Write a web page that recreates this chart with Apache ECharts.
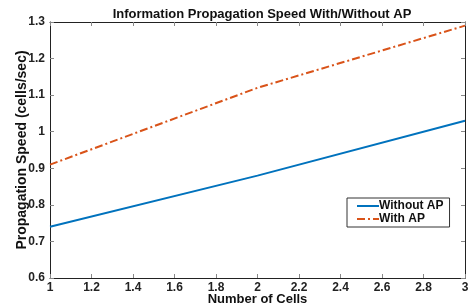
<!DOCTYPE html>
<html><head><meta charset="utf-8">
<script src="https://cdn.jsdelivr.net/npm/echarts@6/dist/echarts.min.js"></script>
<style>html,body{margin:0;padding:0;background:#fff}#c{width:472px;height:308px}</style>
</head><body><div id="c"></div>
<script>
const cells = [1, 2, 3];
const withoutAP = [0.74, 0.88, 1.03];
const withAP = [0.91, 1.12, 1.29];
const FONT = '"Liberation Sans", Arial, sans-serif';
const chart = echarts.init(document.getElementById('c'), null, {renderer: 'canvas'});
const axisLine = {show: true, lineStyle: {color: '#222', width: 1}};
const tick = {show: true, inside: true, length: 4, lineStyle: {color: '#888', width: 1}};
const lbl = {color: '#222', fontFamily: FONT, fontWeight: 'bold', fontSize: 12};
chart.setOption({
  animation: false,
  title: {text: 'Information Propagation Speed With/Without AP', left: 257, textAlign: 'center', top: 3,
    textStyle: {fontFamily: FONT, fontWeight: 'bold', fontSize: 13, color: '#111'}},
  grid: {left: 50, right: 7, top: 22, bottom: 30, outerBoundsMode: 'none', containLabel: false},
  legend: {left: 347, top: 198, orient: 'vertical', itemWidth: 22, itemHeight: 10, itemGap: 1,
    padding: [2, 6, 2, 9], borderColor: '#333', borderWidth: 1, backgroundColor: '#fff',
    itemStyle: {opacity: 0},
    textStyle: {fontFamily: FONT, fontWeight: 'bold', fontSize: 12, color: '#111', padding: [0, 0, 0, -5]},
    data: ['Without AP', 'With AP']},
  xAxis: [
    {type: 'value', min: 1, max: 3, interval: 0.2, position: 'bottom',
      name: 'Number of Cells', nameLocation: 'middle', nameGap: 15, nameMoveOverlap: false,
      nameTextStyle: {fontFamily: FONT, fontWeight: 'bold', fontSize: 13, color: '#111'},
      axisLine, axisTick: tick, axisLabel: Object.assign({margin: 4}, lbl), splitLine: {show: false}},
    {type: 'value', min: 1, max: 3, interval: 0.2, position: 'top',
      axisLine, axisTick: tick, axisLabel: {show: false}, splitLine: {show: false}}
  ],
  yAxis: [
    {type: 'value', min: 0.6, max: 1.3, interval: 0.1, position: 'left',
      name: 'Propagation Speed (cells/sec)', nameLocation: 'middle', nameGap: 21, nameMoveOverlap: false,
      nameTextStyle: {fontFamily: FONT, fontWeight: 'bold', fontSize: 14, color: '#111'},
      axisLine, axisTick: tick, axisLabel: Object.assign({margin: 5}, lbl), splitLine: {show: false}},
    {type: 'value', min: 0.6, max: 1.3, interval: 0.1, position: 'right',
      axisLine, axisTick: tick, axisLabel: {show: false}, splitLine: {show: false}}
  ],
  series: [
    {name: 'Without AP', type: 'line', symbol: 'none', data: cells.map((c, i) => [c, withoutAP[i]]),
      lineStyle: {color: '#0072BD', width: 2}, itemStyle: {color: '#0072BD'}},
    {name: 'With AP', type: 'line', symbol: 'none', data: cells.map((c, i) => [c, withAP[i]]),
      lineStyle: {color: '#D95319', width: 2, type: [8, 3, 2, 3]}, itemStyle: {color: '#D95319'}}
  ]
});
</script></body></html>
